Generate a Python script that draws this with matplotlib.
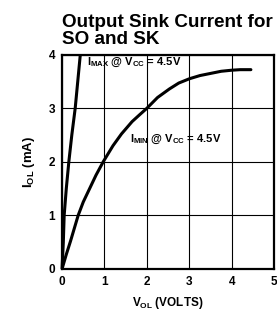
import matplotlib
matplotlib.use("Agg")
import matplotlib.pyplot as plt

# curve readings (V_OL in volts, I_OL in mA)
imin_v = [0, 0.1, 0.2, 0.38, 0.5, 0.65, 0.8, 0.97, 1.2, 1.4, 1.65, 1.83, 2.0,
          2.25, 2.53, 2.75, 3.0, 3.25, 3.5, 3.75, 4.0, 4.2, 4.45]
imin_i = [0, 0.27, 0.52, 1.0, 1.25, 1.5, 1.75, 2.0, 2.3, 2.52, 2.75, 2.88, 3.0,
          3.2, 3.36, 3.47, 3.55, 3.61, 3.65, 3.69, 3.71, 3.72, 3.72]

imax_v = [0, 0.03, 0.05, 0.1, 0.16, 0.23, 0.31, 0.37, 0.43]
imax_i = [0, 0.5, 1.0, 1.5, 2.0, 2.5, 3.0, 3.5, 4.0]

x_ticks = [0, 1, 2, 3, 4, 5]
y_ticks = [0, 1, 2, 3, 4]

plt.rcParams['font.family'] = ['Liberation Sans', 'DejaVu Sans']
plt.rcParams['mathtext.fontset'] = 'custom'
plt.rcParams['mathtext.rm'] = 'Liberation Sans:bold'
plt.rcParams['mathtext.bf'] = 'Liberation Sans:bold'
plt.rcParams['mathtext.it'] = 'Liberation Sans:bold'

fig = plt.figure(figsize=(2.77, 3.16), dpi=100)
ax = fig.add_axes([0.224, 0.149, 0.766, 0.678])

ax.plot(imax_v, imax_i, color='black', lw=2.2, solid_capstyle='butt', clip_on=False)
ax.plot(imin_v, imin_i, color='black', lw=2.2, solid_capstyle='round',
        solid_joinstyle='round')

ax.set_xlim(0, 5)
ax.set_ylim(0, 4)
ax.set_xticks(x_ticks)
ax.set_yticks(y_ticks)
ax.set_xticklabels([str(t) for t in x_ticks], fontweight='bold', fontsize=8.5)
ax.set_yticklabels([str(t) for t in y_ticks], fontweight='bold', fontsize=8.5)
ax.tick_params(length=0, pad=5)
ax.grid(True, color='black', lw=0.8)
for s in ax.spines.values():
    s.set_linewidth(1.6)

ax.set_xlabel(r'V$_{\rm OL}$ (VOLTS)', fontweight='bold', fontsize=8.5, labelpad=5)
ax.set_ylabel(r'I$_{\rm OL}$ (mA)', fontweight='bold', fontsize=9.5, labelpad=8)

ax.text(0.59, 3.86, r'I$_{\rm MAX}$ @ V$_{\rm CC}$ = 4.5V', fontweight='bold',
        fontsize=8, va='center', ha='left')
ax.text(1.6, 2.42, r'I$_{\rm MIN}$ @ V$_{\rm CC}$ = 4.5V', fontweight='bold',
        fontsize=8, va='center', ha='left')

fig.text(0.224, 0.957, 'Output Sink Current for\nSO and SK', fontweight='bold',
         fontsize=13.6, va='top', ha='left', linespacing=1.0)

fig.savefig('out.png', dpi=100)
